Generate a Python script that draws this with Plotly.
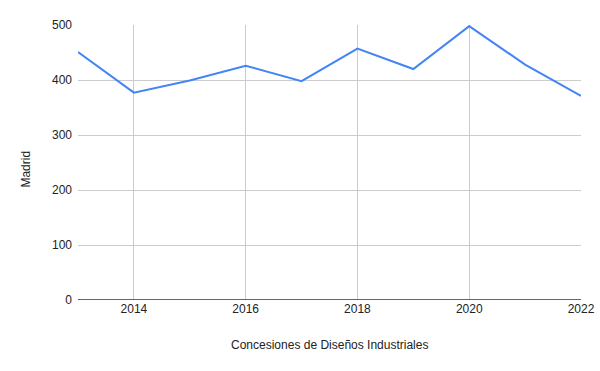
import plotly.graph_objects as go

years = [2013, 2014, 2015, 2016, 2017, 2018, 2019, 2020, 2021, 2022]
madrid = [451, 377, 399, 426, 398, 457, 420, 498, 428, 371]
x_ticks = [2014, 2016, 2018, 2020, 2022]
y_ticks = [0, 100, 200, 300, 400, 500]

fig = go.Figure()
fig.add_trace(go.Scatter(
    x=years, y=madrid, mode="lines",
    line=dict(color="#4285F4", width=2),
    showlegend=False, cliponaxis=True,
))

font_family = "Arial, 'Liberation Sans', sans-serif"
txt = "#222222"
fig.update_layout(
    width=600, height=371,
    margin=dict(l=78, r=19, t=25, b=71, autoexpand=False),
    paper_bgcolor="white", plot_bgcolor="white",
    font=dict(family=font_family, size=12, color=txt),
    xaxis=dict(
        range=[2013, 2022], tickvals=x_ticks, ticktext=[str(t) for t in x_ticks],
        showgrid=True, gridcolor="#cccccc", gridwidth=1,
        zeroline=False, showline=False, ticks="", automargin=False,
        tickfont=dict(size=12, color=txt),
    ),
    yaxis=dict(
        range=[0, 500], tickvals=y_ticks,
        showgrid=True, gridcolor="#cccccc", gridwidth=1,
        zeroline=False, showline=False, ticks="", automargin=False,
        tickfont=dict(size=12, color=txt),
        ticklabelstandoff=5,
    ),
)
fig.add_shape(type="line", xref="paper", yref="y", x0=0, x1=1, y0=0, y1=0,
              line=dict(color="#333333", width=1.5))
fig.add_annotation(text="Concesiones de Diseños Industriales", xref="paper", yref="paper",
                   x=0.5, y=-0.165, yanchor="middle", xanchor="center", showarrow=False,
                   font=dict(size=12, color=txt))
fig.add_annotation(text="Madrid", xref="paper", yref="paper", textangle=-90,
                   x=-0.103, y=0.475, xanchor="center", yanchor="middle", showarrow=False,
                   font=dict(size=12, color=txt))

fig.write_html("out.html", post_script="document.body.style.margin='0';",
               config={"displayModeBar": False})
